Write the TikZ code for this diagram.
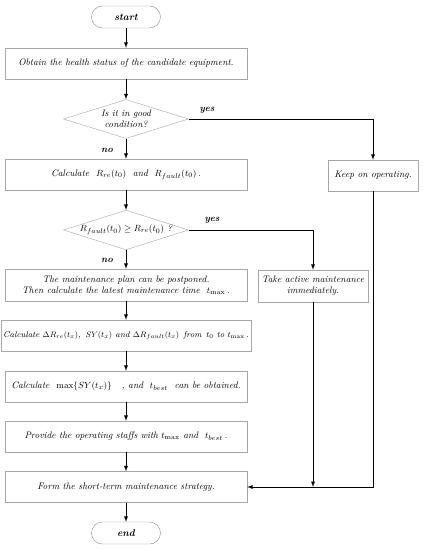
\documentclass[tikz,border=0pt]{standalone}
\usetikzlibrary{shapes.geometric}
\begin{document}
\begin{tikzpicture}[>=latex, x=1bp, y=-1bp,
    every node/.style={font=\fontsize{9.5}{11}\selectfont\itshape},
    stepbox/.style={draw=black!35, minimum width=242bp, minimum height=31bp, inner sep=2pt, align=center},
    termbox/.style={draw=black!45, rounded corners=11bp, minimum width=69bp, minimum height=22bp, font=\fontsize{10}{12}\selectfont\itshape\bfseries},
    choice/.style={draw=black!35, diamond, aspect=3.1, inner sep=0pt, minimum width=125bp, minimum height=39bp, align=center},
    label/.style={font=\fontsize{9.5}{11}\selectfont\itshape\bfseries},
    arr/.style={->, line width=0.9pt}]
    \useasboundingbox (0,0) rectangle (424,550);
        \node[termbox] (start) at (126,17) {start};
        \node[stepbox] (obtain) at (126,63.5) {Obtain the health status of the candidate equipment.};
        \node[choice] (good) at (126,119) {Is it in good\\condition?};
        \node[stepbox] (calc) at (126,174.5) {Calculate \ $R_{re}(t_0)$ \ and \ $R_{fault}(t_0)$\,.};
        \node[stepbox, minimum width=90bp] (keep) at (373,175.5) {Keep on operating.};
        \node[choice] (check) at (126,230) {$R_{fault}(t_0)\geq R_{re}(t_0)$ ?};
        \node[stepbox, minimum height=32bp] (post) at (126,285) {The maintenance plan can be postponed.\\ Then calculate the latest maintenance time \ $t_{\max}$\,.};
        \node[stepbox, minimum width=110bp, minimum height=32bp] (take) at (313,286) {Take active maintenance\\immediately.};
        \node[stepbox, font=\fontsize{8.4}{10}\selectfont\itshape] (delta) at (126,335.5) {Calculate $\Delta R_{re}(t_x)$, \,$SY(t_x)$ and $\Delta R_{fault}(t_x)$ \,from \,$t_0$ to $t_{\max}$\,.};
        \node[stepbox] (best) at (126,386.5) {Calculate \ $\max\{SY(t_x)\}$ \ \ , and \ $t_{best}$ \ can be obtained.};
        \node[stepbox] (staff) at (126,436.5) {Provide the operating staffs with $t_{\max}$ and \ $t_{best}$\,.};
        \node[stepbox] (form) at (126,487) {Form the short-term maintenance strategy.};
        \node[termbox] (end) at (126,533) {end};
        \coordinate (join) at (take.south |- form.east);
        \node[label] (yes1) at (207,110) {yes};
        \node[label] (no1) at (107,150) {no};
        \node[label] (yes2) at (212,220) {yes};
        \node[label] (no2) at (107,260) {no};
        \draw[arr] (start) -- (obtain);
        \draw[arr] (obtain) -- (good);
        \draw[arr] (good) -- (calc);
        \draw[arr] (good.east) -| (keep.north);
        \draw[arr] (calc) -- (check);
        \draw[arr] (check) -- (post);
        \draw[arr] (check.east) -| (take.north);
        \draw[arr] (post) -- (delta);
        \draw[arr] (delta) -- (best);
        \draw[arr] (best) -- (staff);
        \draw[arr] (staff) -- (form);
        \draw[arr] (keep.south) |- (form.east);
        \draw[arr] (take.south) -- (join);
        \draw[arr] (form) -- (end);
%        \draw[arr] (take.south) |- (form.east);
    \end{tikzpicture}
\end{document}
